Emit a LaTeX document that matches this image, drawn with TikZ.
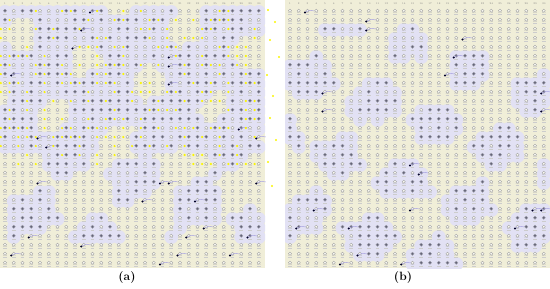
\documentclass[tikz,border=0pt]{standalone}
\usepackage{tikz}
\definecolor{beige}{RGB}{240,238,216}
\definecolor{lav}{RGB}{226,225,244}
\definecolor{sick}{RGB}{100,100,120}
\definecolor{trail}{RGB}{170,165,225}
\definecolor{yel}{RGB}{250,245,0}
% cell state (same in both passes)
\newcommand{\cellstate}{%
	\pgfmathsetmacro{\xx}{\px+\c*8.75-3.75}%
	\pgfmathsetmacro{\yy}{3+\r*9}%
	\pgfmathsetmacro{\ha}{frac(abs(sin(\c*127.1+\r*311.7+\mode*74.7))*437.58)}%
	\pgfmathsetmacro{\hb}{frac(abs(sin(\c*269.5+\r*183.3+\mode*46.1))*521.37)}%
	\pgfmathsetmacro{\hc}{frac(abs(sin(\c*113.5+\r*271.9+\mode*24.4))*389.21)}%
	\pgfmathsetmacro{\hd}{frac(abs(sin(\c*331.2+\r*91.7+\mode*12.9))*613.73)}%
	\pgfmathsetmacro{\n}{sin(\c*40+\r*25+\mode*60)+sin(\c*17-\r*47+30*\mode)+0.8*\ha}%
	\ifnum\mode=1
		\pgfmathtruncatemacro{\islav}{(\r<27)*(\n>(\r<17 ? -0.3 : 0.7))}%
		\pgfmathtruncatemacro{\isyel}{(\r<19)*(\hb<0.38)}%
	\else
		\pgfmathtruncatemacro{\islav}{(\r>2)*(\n>(\r<9 ? 1.2 : 0.75))}%
		\pgfmathtruncatemacro{\isyel}{0}%
	\fi
	\pgfmathtruncatemacro{\issick}{\islav*(\hc<0.65)}%
	\pgfmathtruncatemacro{\isdot}{(\hd<0.045)}%
}

\begin{document}
\begin{tikzpicture}[x=1pt,y=-1pt,
	person/.style={draw=gray!75, line width=0.35pt, fill=white!70!beige},
	sickperson/.style={draw=sick!60, line width=0.35pt, fill=sick},
	tag/.style={draw=gray!40, line width=0.5pt},
	colnum/.style={font=\fontsize{2.5}{3}\selectfont, text=gray, inner sep=0pt}]
	\useasboundingbox (0,0) rectangle (550,289);
	% two panels: left edge / mode
	\foreach \px/\mode in {0/1, 285/2} {
		\fill[beige] (\px,0) rectangle ++(265,268);
		% lavender halos first
		\begin{scope}
			\clip (\px,0) rectangle ++(265,268);
			\foreach \r in {1,...,29}
				\foreach \c in {1,...,30} {
					\cellstate
					\ifnum\islav=1
						\fill[lav] (\xx,\yy) circle (7);
					\fi
				}
		\end{scope}
		\foreach \c in {1,...,30}
			\node[colnum] at (\px+\c*8.75-3.75,4) {\c};
		\foreach \r in {1,...,29}
			\foreach \c in {1,...,30} {
				\cellstate
				\ifnum\issick=1
					\draw[sickperson] (\xx,\yy-1.3) circle (1.6);
				\else
					\draw[person] (\xx,\yy-1.3) circle (1.6);
					\draw[gray!60, line width=0.3pt] (\xx-1.6,\yy+0.9) -- (\xx-1.2,\yy) -- (\xx+1.2,\yy) -- (\xx+1.6,\yy+0.9);
				\fi
				\draw[tag] (\xx-1.8,\yy+2.6) -- (\xx+1.8,\yy+2.6);
				\ifnum\isyel=1
					\fill[yel] (\xx-4.2,\yy-1) circle (1.2);
				\fi
				\ifnum\isdot=1
					\draw[trail, line width=0.5pt] (\xx-2.5,\yy+0.5) .. controls (\xx+2,\yy-2) .. (\xx+7,\yy-1);
					\fill[black!85!blue] (\xx-2.5,\yy+0.5) circle (1.2);
				\fi
			}
	}
	% stray yellow dots between the panels
	\foreach \sx/\sy in {268/10, 275/22, 270/40, 279/57, 267/75, 273/96, 270/118, 276/140, 268/162, 272/186}
		\fill[yel] (\sx,\sy) circle (1.1);
	\node[font=\large\bfseries] (capa) at (127,278) {(a)};
	\node[font=\large\bfseries] (capb) at (403,278) {(b)};
\end{tikzpicture}
\end{document}
